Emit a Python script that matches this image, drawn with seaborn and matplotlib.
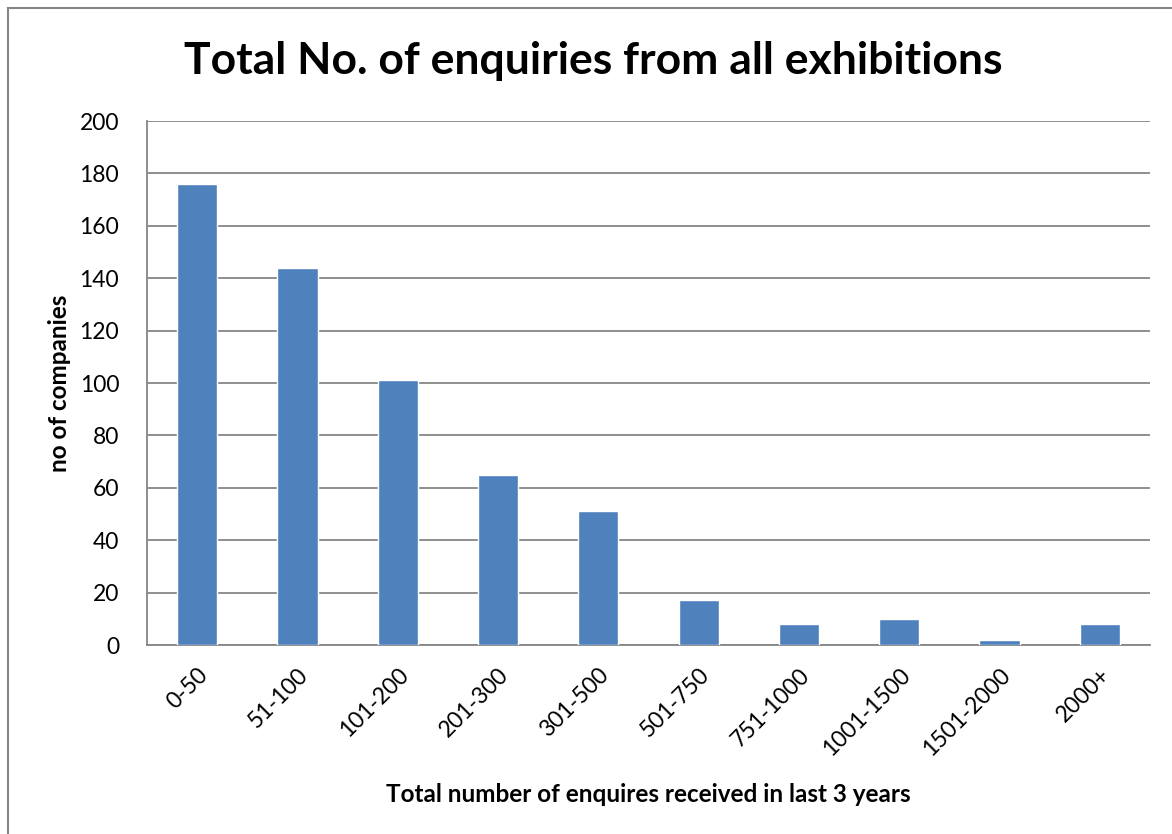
import matplotlib
matplotlib.use("Agg")
import matplotlib.pyplot as plt
import seaborn as sns
import pandas as pd
from matplotlib.patches import Rectangle

categories = ["0-50", "51-100", "101-200", "201-300", "301-500", "501-750",
              "751-1000", "1001-1500", "1501-2000", "2000+"]
values = [176, 144, 101, 65, 51, 17, 8, 10, 2, 8]
yticks = [0, 20, 40, 60, 80, 100, 120, 140, 160, 180, 200]

sns.set_style("white")
plt.rcParams['font.family'] = ['Lato', 'DejaVu Sans']
plt.rcParams['text.color'] = 'black'
plt.rcParams['axes.labelcolor'] = 'black'
plt.rcParams['xtick.color'] = 'black'
plt.rcParams['ytick.color'] = 'black'

df = pd.DataFrame({"cat": categories, "val": values})

fig = plt.figure(figsize=(11.72, 8.34), dpi=100)
ax = fig.add_axes([147/1172, 1-645/834, (1150-147)/1172, (645-121)/834])

grid_c = "#868686"
sns.barplot(data=df, x="cat", y="val", color="#4F81BD", saturation=1,
            width=0.4, ax=ax, zorder=3)
ax.set_ylim(0, 200)
ax.set_xlim(-0.5, len(categories)-0.5)
ax.set_yticks(yticks)
ax.set_yticklabels([str(t) for t in yticks], fontsize=16.5)
ax.yaxis.grid(True, color=grid_c, linewidth=1.3, zorder=0)
ax.set_axisbelow(True)
for s in ["top", "right"]:
    ax.spines[s].set_visible(False)
for s in ["left", "bottom"]:
    ax.spines[s].set_color(grid_c)
    ax.spines[s].set_linewidth(1.3)
ax.tick_params(axis='y', direction='out', length=6, color=grid_c, width=1.3, pad=14,
               labelcolor='black')

# x ticks at category boundaries
ax.set_xticks([i - 0.5 for i in range(len(categories)+1)], minor=False)
ax.set_xticklabels([])
ax.tick_params(axis='x', which='major', direction='out', length=6, color=grid_c, width=1.3)
ax.set_xticks(range(len(categories)), minor=True)
ax.set_xticklabels(categories, minor=True, rotation=45, ha='right',
                   rotation_mode='anchor', fontsize=16.5)
ax.tick_params(axis='x', which='minor', length=0, pad=14, labelcolor='black')

ax.set_xlabel("Total number of enquires received in last 3 years",
              fontsize=17.5, fontweight='bold', labelpad=17)
ax.set_ylabel("no of companies", fontsize=17.5, fontweight='bold', labelpad=6)

fig.text(593/1172, 1-61/834, "Total No. of enquiries from all exhibitions",
         ha='center', va='center', fontsize=32, fontweight='bold')

fig.patches.append(Rectangle((8/1172, -0.1), 1.2, 1-8/834+0.1,
                             transform=fig.transFigure, fill=False,
                             edgecolor="#868686", linewidth=1.5))

fig.savefig("out.png", dpi=100)
